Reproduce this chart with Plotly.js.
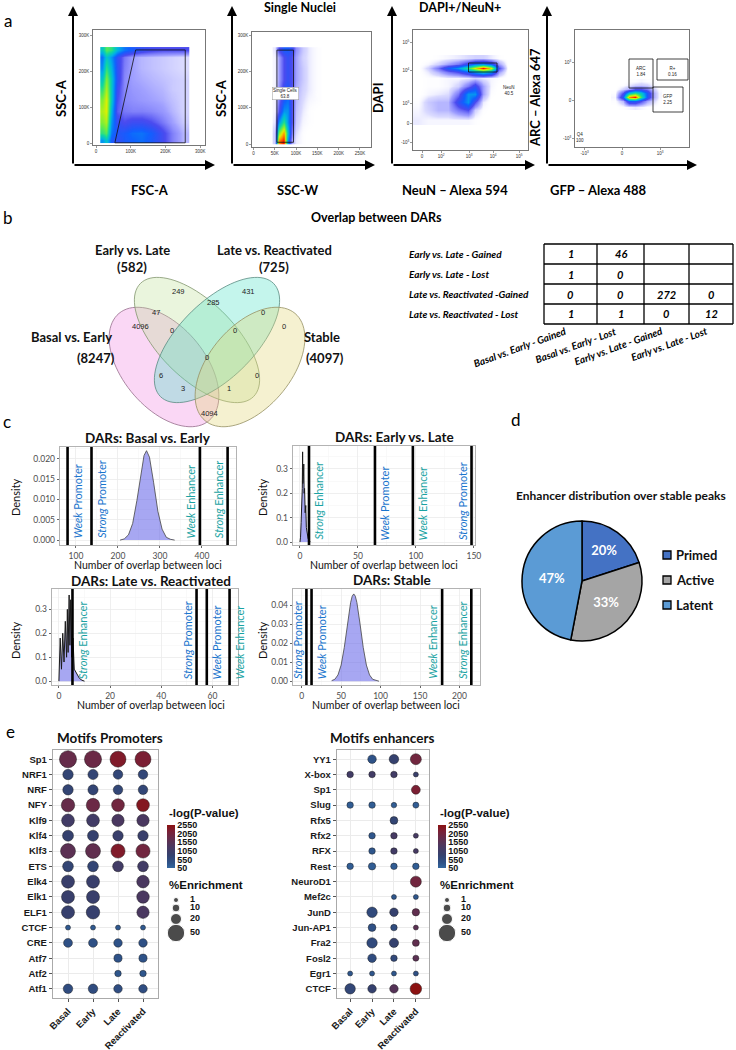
<!DOCTYPE html>
<html>
<head>
<meta charset="utf-8">
<script src="https://cdn.plot.ly/plotly-3.0.1.min.js"></script>
<style>
html,body{margin:0;padding:0;background:#ffffff;}
#chart{width:736px;height:1050px;}
</style>
</head>
<body>
<div id="chart"></div>
<script>
// ======================= DATA =======================
// Panel a – flow cytometry gating (density grids)
const flowTitles = ['', 'Single Nuclei', 'DAPI+/NeuN+', ''];
const flowXLabels = ['FSC-A', 'SSC-W', 'NeuN – Alexa 594', 'GFP – Alexa 488'];
const flowYLabels = ['SSC-A', 'SSC-A', 'DAPI', 'ARC – Alexa 647'];

const flow1X = [18, 30, 45, 60, 80, 105, 130, 160, 190, 220, 252];
const flow1Y = [12, 30, 60, 90, 120, 150, 180, 210, 240, 258];
const flow1Z = [
  [4, 5, 3, 2.5, 3, 3.2, 3.4, 3, 2.2, 1.4, 0.8],
  [6, 6.5, 3.5, 2.8, 3, 3.4, 3.5, 3.1, 2.2, 1.4, 0.8],
  [7, 7.5, 4, 2.4, 2, 2.3, 2.3, 2, 1.5, 1, 0.6],
  [7.5, 8, 4.5, 1.8, 1.5, 1.4, 1.4, 1.3, 1.1, 0.8, 0.5],
  [7, 8, 5, 2, 1.3, 1.2, 1.1, 1, 0.9, 0.7, 0.5],
  [6, 7.5, 5, 2.2, 1.3, 1.1, 1, 0.9, 0.8, 0.6, 0.5],
  [5, 7, 5, 2.5, 1.3, 1, 0.9, 0.8, 0.7, 0.6, 0.5],
  [4, 6, 4.5, 2.5, 1.4, 1, 0.8, 0.7, 0.6, 0.5, 0.4],
  [3.5, 5, 4, 2.5, 1.5, 1, 0.8, 0.7, 0.6, 0.5, 0.4],
  [5, 6.5, 6, 4.5, 3.5, 3, 2.5, 2.2, 2, 2, 2]
];
const gate1X = [54, 114, 257, 257, 54];
const gate1Y = [3, 259, 259, 3, 3];

const flow2X = [50, 60, 70, 80, 90, 100, 115, 130, 150];
const flow2Y = [10, 30, 60, 90, 120, 150, 180, 210, 240, 258];
const flow2Z = [
  [0.5, 9, 10, 4, 1, 0.3, 0.1, 0, 0],
  [0.5, 7, 9, 5, 1.5, 0.4, 0.1, 0, 0],
  [0.3, 4, 6, 4, 2, 0.6, 0.2, 0.1, 0],
  [0.2, 2, 4, 4, 2, 0.7, 0.3, 0.1, 0],
  [0.2, 1.5, 3, 3.5, 2, 0.8, 0.4, 0.2, 0.1],
  [0.2, 1.2, 2.5, 3, 2, 0.9, 0.5, 0.3, 0.1],
  [0.2, 1, 2, 2.5, 2, 1, 0.6, 0.3, 0.1],
  [0.2, 1, 2, 2.5, 2, 1, 0.6, 0.3, 0.1],
  [0.2, 1, 2, 2.5, 2, 1, 0.5, 0.3, 0.1],
  [0.3, 2, 3, 3, 2.5, 1.2, 0.6, 0.3, 0.1]
];
const gate2X = [55, 94, 94, 55, 55];
const gate2Y = [5, 5, 259, 259, 5];

const flow3X = [5, 15, 25, 35, 45, 55, 62, 70, 78, 86, 95];
const flow3Y = [30, 40, 48, 56, 64, 72, 78, 82, 86, 92];
const flow3Z = [
  [0.3, 0.2, 0.2, 0.2, 0.2, 0.2, 0.1, 0, 0, 0, 0],
  [0.2, 0.5, 0.8, 0.8, 1.5, 2, 0.5, 0.1, 0, 0, 0],
  [0.1, 0.6, 0.8, 0.8, 2.5, 4, 2, 0.3, 0, 0, 0],
  [0, 0.2, 0.3, 0.4, 1.5, 4, 4, 1, 0.1, 0, 0],
  [0, 0.1, 0.1, 0.2, 0.5, 1.5, 2.5, 1, 0.2, 0, 0],
  [0, 0.1, 0.1, 0.2, 0.2, 0.3, 0.5, 0.3, 0.2, 0.1, 0],
  [0, 0.3, 0.8, 1.5, 2, 3, 4, 5, 4, 1, 0],
  [0, 0.5, 1.5, 3, 4, 6, 8, 10, 8, 2, 0],
  [0, 0.2, 0.5, 1, 1.5, 2.5, 3.5, 4, 3, 1, 0],
  [0, 0, 0.1, 0.2, 0.3, 0.4, 0.5, 0.5, 0.3, 0.1, 0]
];
const gate3X = [55.5, 84, 84, 55.5, 55.5];
const gate3Y = [78, 78, 87, 87, 78];

const flow4X = [40, 48, 54, 60, 66, 72, 78, 84];
const flow4Y = [40, 46, 50, 54, 58, 62, 66];
const flow4Z = [
  [0, 0.1, 0.2, 0.3, 0.2, 0.1, 0.1, 0],
  [0.1, 0.8, 3, 3, 2, 1, 0.5, 0.1],
  [0.2, 3, 9, 10, 6, 3, 1, 0.2],
  [0.1, 2, 5, 6, 5, 3, 1, 0.2],
  [0, 0.5, 1, 2, 2, 1.5, 0.6, 0.1],
  [0, 0.1, 0.3, 0.5, 0.6, 0.5, 0.2, 0],
  [0, 0, 0.1, 0.1, 0.2, 0.1, 0.1, 0]
];
const gate4Names = ['ARC', 'R+', 'GFP'];
const gate4Pct = ['1.84', '0.16', '2.25'];
const gate4Boxes = [[54, 78, 59, 88], [82, 113, 67, 88], [78, 108, 35, 60]];

// Panel b – Venn diagram and overlap table
const vennSets = ['Basal vs. Early', 'Early vs. Late', 'Late vs. Reactivated', 'Stable'];
const vennTotals = [8247, 582, 725, 4097];
const vennCounts = [249, 285, 431, 47, 0, 4096, 0, 0, 0, 0, 6, 0, 3, 1, 4094];

const tableRows = ['Early vs. Late - Gained', 'Early vs. Late - Lost', 'Late vs. Reactivated -Gained', 'Late vs. Reactivated - Lost'];
const tableCols = ['Basal vs. Early - Gained', 'Basal vs. Early - Lost', 'Early vs. Late - Gained', 'Early vs. Late - Lost'];
const tableValues = [
  ['1', '46', '', ''],
  ['1', '0', '', ''],
  ['0', '0', '272', '0'],
  ['1', '1', '0', '12']
];

// Panel c – density of overlaps
const densTitles = ['DARs: Basal vs. Early', 'DARs: Early vs. Late', 'DARs: Late vs. Reactivated', 'DARs: Stable'];
const dens1X = [205, 215, 225, 235, 245, 255, 262, 268, 275, 285, 295, 305, 315, 325, 335];
const dens1Y = [0, 0.0003, 0.0013, 0.0041, 0.0097, 0.0169, 0.0208, 0.0220, 0.0204, 0.0141, 0.0071, 0.0027, 0.0007, 0.0002, 0];
const dens2X = [0, 0.5, 1, 1.5, 2, 2.3, 2.5, 2.7, 3, 3.3, 3.6, 4, 4.5, 5, 5.5, 6, 7, 8, 9];
const dens2Y = [0, 0.02, 0.08, 0.15, 0.22, 0.37, 0.24, 0.31, 0.27, 0.32, 0.2, 0.22, 0.12, 0.15, 0.06, 0.04, 0.015, 0.005, 0];
const dens3X = [0, 0.5, 1, 1.5, 2, 2.5, 3, 3.3, 3.6, 4, 4.3, 4.6, 5, 5.5, 6, 7, 8, 9, 10];
const dens3Y = [0, 0.18, 0.05, 0.2, 0.08, 0.25, 0.1, 0.3, 0.12, 0.36, 0.15, 0.34, 0.1, 0.18, 0.05, 0.03, 0.012, 0.004, 0];
const dens4X = [38, 42, 46, 50, 54, 58, 62, 64, 66, 68, 70, 74, 78, 82, 86, 90, 94, 98];
const dens4Y = [0.0003, 0.0010, 0.0033, 0.0085, 0.0178, 0.0301, 0.0414, 0.0448, 0.046, 0.0448, 0.0414, 0.0301, 0.0178, 0.0085, 0.0033, 0.0010, 0.0003, 0];

const thr1 = [80, 137, 395, 461];
const thr1Labels = ['Week Promoter', 'Strong Promoter', 'Week Enhancer', 'Strong Enhancer'];
const thr2 = [7.8, 64.7, 97.4, 148];
const thr2Labels = ['Strong Enhancer', 'Week Promoter', 'Week Enhancer', 'Strong Promoter'];
const thr3 = [5.3, 53.8, 57.8, 66.7];
const thr3Labels = ['Strong Enhancer', 'Strong Promoter', 'Week Promoter', 'Week Enhancer'];
const thr4 = [6, 12.5, 178, 215];
const thr4Labels = ['Strong Promoter', 'Week Promoter', 'Week Enhancer', 'Strong Enhancer'];

// Panel d – pie
const pieLabels = ['Primed', 'Active', 'Latent'];
const pieValues = [20, 33, 47];

// Panel e – motif dot plots  [Basal, Early, Late, Reactivated]
const stages = ['Basal', 'Early', 'Late', 'Reactivated'];
const promoterMotifs = ['Sp1', 'NRF1', 'NRF', 'NFY', 'Klf9', 'Klf4', 'Klf3', 'ETS', 'Elk4', 'Elk1', 'ELF1', 'CTCF', 'CRE', 'Atf7', 'Atf2', 'Atf1'];
const promoterEnrich = [
  [48, 48, 42, 42], [18, 17, 15, 15], [18, 17, 15, 15], [30, 30, 27, 27],
  [27, 27, 25, 25], [20, 20, 18, 18], [37, 37, 33, 33], [19, 19, 19, 19],
  [28, 28, null, 26], [28, 28, null, 26], [28, 30, null, 25], [4, 4, 4, 4],
  [13, 13, 12, 12], [null, null, 11, 11], [null, null, 7, 7], [15, 15, 12, 12]
];
const promoterLogP = [
  [1800, 1900, 2300, 2200], [700, 700, 650, 650], [700, 700, 650, 650], [1800, 1900, 2000, 2400],
  [1100, 1100, 1300, 1300], [800, 800, 900, 900], [1600, 1700, 2300, 2000], [700, 700, 1100, 1100],
  [900, 900, null, 1300], [900, 900, null, 1300], [850, 850, null, 1300], [250, 250, 250, 250],
  [400, 400, 350, 400], [null, null, 350, 350], [null, null, 300, 300], [500, 500, 450, 450]
];
const enhancerMotifs = ['YY1', 'X-box', 'Sp1', 'Slug', 'Rfx5', 'Rfx2', 'RFX', 'Rest', 'NeuroD1', 'Mef2c', 'JunD', 'Jun-AP1', 'Fra2', 'Fosl2', 'Egr1', 'CTCF'];
const enhancerEnrich = [
  [null, 12, 15, 20], [7, 7, 7, 2], [null, null, null, 13], [7, 7, 5, 6],
  [null, null, 10, null], [null, 7, 7, 2], [null, 7, 7, 3], [7, 9, 7, 7],
  [null, null, null, 20], [null, null, 3, 3], [null, 18, 12, 9], [null, 10, 7, 4],
  [null, 18, 14, 8], [null, 12, 7, 6], [2, 3, 3, 3], [18, 12, 12, 22]
];
const enhancerLogP = [
  [null, 350, 800, 2000], [1100, 1100, 1100, 900], [null, null, null, 2200], [200, 200, 200, 200],
  [null, null, 700, null], [null, 300, 1200, 1200], [null, 300, 1100, 1200], [200, 200, 200, 200],
  [null, null, null, 2000], [null, null, 300, 300], [null, 550, 800, 1700], [null, 400, 500, 1600],
  [null, 550, 800, 1700], [null, 500, 600, 1600], [300, 300, 300, 400], [650, 800, 1500, 2550]
];
const logPTicks = [50, 550, 1050, 1550, 2050, 2550];
const enrichLegend = [1, 10, 20, 50];

// ======================= STYLE / LAYOUT HELPERS =======================
const W = 736, H = 1050;
const FONT = 'Lato, "Open Sans", sans-serif';
const ARIAL = '"Liberation Sans", Arial, sans-serif';
const px = x => x / W;
const py = y => 1 - y / H;
const xdom = (a, b) => [a / W, b / W];
const ydom = (top, bottom) => [1 - bottom / H, 1 - top / H];
const f = (size, weight, color, family, style) => ({size: size, weight: weight || 'normal', color: color || '#000', family: family || FONT, style: style || 'normal'});

const traces = [];
const shapes = [];
const ann = [];
const layout = {
  width: W, height: H, margin: {l: 0, r: 0, t: 0, b: 0, pad: 0},
  paper_bgcolor: '#ffffff', plot_bgcolor: 'rgba(0,0,0,0)', showlegend: false,
  font: {family: FONT}
};
function txt(x, y, text, font, extra) {
  ann.push(Object.assign({xref: 'paper', yref: 'paper', x: px(x), y: py(y), text: text, showarrow: false,
    xanchor: 'center', yanchor: 'middle', font: font}, extra || {}));
}

// Panel letters
txt(8, 20, 'a', f(17));
txt(8, 218, 'b', f(17));
txt(7, 421, 'c', f(17));
txt(516, 419, 'd', f(17));
txt(10, 731, 'e', f(17));

// ======================= PANEL A =======================
const flowScale = [
  [0, 'rgba(255,255,255,0)'], [0.04, 'rgba(150,150,255,0.35)'], [0.1, 'rgba(80,80,255,0.55)'],
  [0.2, 'rgba(30,30,235,0.8)'], [0.32, '#1060ff'], [0.44, '#00b0e8'], [0.56, '#10d8a0'], [0.68, '#70ee40'],
  [0.8, '#e0f000'], [0.9, '#ff9000'], [1, '#ff1000']
];
const flowAxisBase = {
  showline: true, mirror: true, linecolor: '#555', linewidth: 0.8, ticks: 'outside', ticklen: 2,
  tickwidth: 0.6, tickcolor: '#555', tickfont: {size: 4.5, color: '#333', family: ARIAL},
  showgrid: false, zeroline: false, fixedrange: true, tickmode: 'array'
};
const flowPanels = [
  {X: flow1X, Y: flow1Y, Z: flow1Z, xd: [93, 205], yd: [30, 145], xr: [-9, 314], yr: [-3, 314],
   xt: [0, 100, 200, 300], xtt: ['0', '100K', '200K', '300K'], yt: [0, 100, 200, 300], ytt: ['0', '100K', '200K', '300K'],
   arrowX: 73, arrowEnd: 215},
  {X: flow2X, Y: flow2Y, Z: flow2Z, xd: [252, 371], yd: [32, 147], xr: [-3.5, 276], yr: [-8, 309],
   xt: [0, 50, 100, 150, 200, 250], xtt: ['0', '50K', '100K', '150K', '200K', '250K'], yt: [0, 100, 200, 300], ytt: ['0', '100K', '200K', '300K'],
   arrowX: 232, arrowEnd: 375},
  {X: flow3X, Y: flow3Y, Z: flow3Z, xd: [413, 528], yd: [30, 150], xr: [0, 115], yr: [0, 120],
   xt: [9, 28, 56, 80, 106], xtt: ['0', '10<sup>2</sup>', '10<sup>3</sup>', '10<sup>4</sup>', '10<sup>5</sup>'],
   yt: [8, 27, 47, 80, 108], ytt: ['-10<sup>3</sup>', '0', '10<sup>3</sup>', '10<sup>4</sup>', '10<sup>5</sup>'],
   arrowX: 392, arrowEnd: 535},
  {X: flow4X, Y: flow4Y, Z: flow4Z, xd: [575, 689], yd: [30, 147], xr: [0, 114], yr: [0, 117],
   xt: [9.5, 47, 85], xtt: ['-10<sup>3</sup>', '0', '10<sup>3</sup>'], yt: [9, 47, 85], ytt: ['-10<sup>3</sup>', '0', '10<sup>3</sup>'],
   arrowX: 547, arrowEnd: 697}
];
const flowXLabelPos = [150, 297, 455, 598];
const flowYLabelPos = [61, 221, 378, 535];
const flowTitlePos = [0, 300, 460, 0];
flowPanels.forEach((p, i) => {
  const n = i === 0 ? '' : String(i + 1);
  layout['xaxis' + n] = Object.assign({}, flowAxisBase, {domain: xdom(p.xd[0], p.xd[1]), range: p.xr, tickvals: p.xt, ticktext: p.xtt, anchor: 'y' + n});
  layout['yaxis' + n] = Object.assign({}, flowAxisBase, {domain: ydom(p.yd[0], p.yd[1]), range: p.yr, tickvals: p.yt, ticktext: p.ytt, anchor: 'x' + n});
  traces.push({type: 'heatmap', x: p.X, y: p.Y, z: p.Z, xaxis: 'x' + n, yaxis: 'y' + n, colorscale: flowScale,
    zmin: 0, zmax: 10, zsmooth: 'best', showscale: false, hoverinfo: 'skip'});
  // axis arrows
  ann.push({xref: 'paper', yref: 'paper', x: px(p.arrowX), y: py(6), ax: 0, ay: 159, showarrow: true, arrowhead: 2,
    arrowsize: 1, arrowwidth: 2, arrowcolor: '#000', text: ''});
  ann.push({xref: 'paper', yref: 'paper', x: px(p.arrowEnd), y: py(165), ax: -(p.arrowEnd - p.arrowX), ay: 0, showarrow: true,
    arrowhead: 2, arrowsize: 1, arrowwidth: 2, arrowcolor: '#000', text: ''});
  txt(flowXLabelPos[i], 190, flowXLabels[i], f(13, 'bold'));
  txt(flowYLabelPos[i], 98, flowYLabels[i], f(13, 'bold'), {textangle: -90});
  if (flowTitles[i]) txt(flowTitlePos[i], 7, flowTitles[i], f(12.5, 'bold'));
});
// gates
const gateLine = {color: '#111', width: 0.8};
traces.push({type: 'scatter', mode: 'lines', x: gate1X, y: gate1Y, xaxis: 'x', yaxis: 'y', line: gateLine, hoverinfo: 'skip'});
traces.push({type: 'scatter', mode: 'lines', x: gate2X, y: gate2Y, xaxis: 'x2', yaxis: 'y2', line: gateLine, hoverinfo: 'skip'});
traces.push({type: 'scatter', mode: 'lines', x: gate3X, y: gate3Y, xaxis: 'x3', yaxis: 'y3', line: gateLine, hoverinfo: 'skip'});
gate4Boxes.forEach(b => {
  traces.push({type: 'scatter', mode: 'lines', x: [b[0], b[1], b[1], b[0], b[0]], y: [b[2], b[2], b[3], b[3], b[2]],
    xaxis: 'x4', yaxis: 'y4', line: gateLine, hoverinfo: 'skip'});
});
const gf = f(4.5, 'normal', '#222', ARIAL);
ann.push({xref: 'x2', yref: 'y2', x: 74, y: 140, text: 'Single Cells<br>63.8', showarrow: false, font: gf, bgcolor: '#fff', bordercolor: '#999', borderwidth: 0.5, borderpad: 0.5});
ann.push({xref: 'x3', yref: 'y3', x: 96, y: 60, text: 'NeuN<br>40.5', showarrow: false, font: gf});
gate4Boxes.forEach((b, i) => {
  ann.push({xref: 'x4', yref: 'y4', x: (b[0] + b[1]) / 2, y: i === 2 ? 48 : 76, text: gate4Names[i] + '<br>' + gate4Pct[i], showarrow: false, font: gf});
});
ann.push({xref: 'x4', yref: 'y4', x: 5, y: 10, text: 'Q4<br>100', showarrow: false, font: gf});

// ======================= PANEL B =======================
txt(376, 218, 'Overlap between DARs', f(12.5, 'bold'));
function ellipsePath(cx, cy, a, b, deg) {
  const t = deg * Math.PI / 180;
  let s = '';
  for (let i = 0; i <= 90; i++) {
    const p = 2 * Math.PI * i / 90;
    const ex = a * Math.cos(p), ey = b * Math.sin(p);
    const x = cx + ex * Math.cos(t) - ey * Math.sin(t);
    const y = cy + ex * Math.sin(t) + ey * Math.cos(t);
    s += (i ? 'L' : 'M') + px(x).toFixed(5) + ',' + py(y).toFixed(5);
  }
  return s + 'Z';
}
const vennShapes = [
  {c: [164, 367], a: 70, b: 41, r: 50, fill: 'rgba(240,140,225,0.35)', line: 'rgba(150,110,140,0.8)'},
  {c: [197, 340], a: 80, b: 38, r: 45, fill: 'rgba(190,225,150,0.32)', line: 'rgba(130,150,110,0.8)'},
  {c: [217, 340], a: 80, b: 38, r: -45, fill: 'rgba(70,225,195,0.32)', line: 'rgba(90,140,130,0.8)'},
  {c: [250, 367], a: 70, b: 41, r: -50, fill: 'rgba(225,215,120,0.35)', line: 'rgba(150,145,100,0.8)'}
];
vennShapes.forEach(v => shapes.push({type: 'path', xref: 'paper', yref: 'paper', path: ellipsePath(v.c[0], v.c[1], v.a, v.b, v.r),
  fillcolor: v.fill, line: {color: v.line, width: 1}}));
const vennLabelPos = [[71, 337, 96, 358], [132, 250, 132, 267], [274, 250, 274, 267], [322, 337, 325, 358]];
vennSets.forEach((s, i) => {
  const p = vennLabelPos[i];
  txt(p[0], p[1], s, f(13, 'bold', '#111'));
  txt(p[2], p[3], '(' + vennTotals[i] + ')', f(13, 'bold', '#111'));
});
const vennCountPos = [[178, 291], [213, 302], [248, 291], [156, 312], [263, 312], [140, 327], [284, 327], [172, 330],
  [235, 330], [207, 357], [161, 375], [257, 375], [183, 388], [229, 388], [209, 413]];
vennCounts.forEach((c, i) => txt(vennCountPos[i][0], vennCountPos[i][1], String(c), f(7.5, 'normal', '#222', ARIAL)));

// table
const colEdges = [544, 597, 644, 689, 733];
const rowEdges = [244, 264, 284, 304, 324];
rowEdges.forEach(y => shapes.push({type: 'line', xref: 'paper', yref: 'paper', x0: px(colEdges[0]), x1: px(colEdges[4]), y0: py(y), y1: py(y), line: {color: '#000', width: 1.3}}));
colEdges.forEach(x => shapes.push({type: 'line', xref: 'paper', yref: 'paper', x0: px(x), x1: px(x), y0: py(rowEdges[0]), y1: py(rowEdges[4]), line: {color: '#000', width: 1.3}}));
tableRows.forEach((r, i) => {
  const yc = (rowEdges[i] + rowEdges[i + 1]) / 2;
  txt(407, yc, r, f(10, 'bold', '#000', FONT, 'italic'), {xanchor: 'left'});
  tableValues[i].forEach((v, j) => {
    if (v !== '') txt((colEdges[j] + colEdges[j + 1]) / 2, yc, v, f(11, 'bold', '#000', FONT, 'italic'));
  });
});
tableCols.forEach((c, j) => {
  const xc = (colEdges[j] + colEdges[j + 1]) / 2;
  txt(xc, 322, c, f(10, 'bold', '#000', FONT, 'italic'), {textangle: -20, xanchor: 'right', yanchor: 'top'});
});

// ======================= PANEL C =======================
const densAxBase = {
  showline: true, mirror: true, linecolor: '#b3b3b3', linewidth: 1.3, ticks: 'outside', ticklen: 2,
  tickcolor: '#666', tickfont: {size: 8.5, color: '#4d4d4d', family: FONT}, showgrid: true, gridcolor: '#ebebeb',
  gridwidth: 0.8, zeroline: false, fixedrange: true, tick0: 0
};
const densPanels = [
  {X: dens1X, Y: dens1Y, thr: thr1, lab: thr1Labels, side: ['r', 'r', 'l', 'l'], xd: [60, 236], yd: [447, 545],
   xr: [62, 481], yr: [-0.0012, 0.0229], dx: 100, dy: 0.005, fmt: '.3f', title: [148, 438], dens: [15, 497], xt: [148, 565], spike: false},
  {X: dens2X, Y: dens2Y, thr: thr2, lab: thr2Labels, side: ['r', 'r', 'r', 'l'], xd: [293, 475], yd: [446, 545],
   xr: [-6, 151], yr: [-0.012, 0.394], dx: 50, dy: 0.1, fmt: '.1f', title: [394, 437], dens: [262, 497], xt: [384, 565], spike: true},
  {X: dens3X, Y: dens3Y, thr: thr3, lab: thr3Labels, side: ['r', 'l', 'r', 'r'], xd: [52, 238], yd: [589, 685],
   xr: [-2.7, 70], yr: [-0.016, 0.385], dx: 20, dy: 0.1, fmt: '.1f', title: [151, 581], dens: [15, 640], xt: [151, 705], spike: true},
  {X: dens4X, Y: dens4Y, thr: thr4, lab: thr4Labels, side: ['l', 'r', 'l', 'l'], xd: [293, 480], yd: [589, 685],
   xr: [-11, 226], yr: [-0.002, 0.0486], dx: 50, dy: 0.01, fmt: '.2f', title: [392, 580], dens: [262, 640], xt: [386, 705], spike: false}
];
densPanels.forEach((p, i) => {
  const n = String(i + 5);
  layout['xaxis' + n] = Object.assign({}, densAxBase, {domain: xdom(p.xd[0], p.xd[1]), range: p.xr, dtick: p.dx, anchor: 'y' + n,
    minor: {dtick: p.dx / 2, showgrid: true, gridcolor: '#f5f5f5', gridwidth: 0.6}});
  layout['yaxis' + n] = Object.assign({}, densAxBase, {domain: ydom(p.yd[0], p.yd[1]), range: p.yr, dtick: p.dy, tickformat: p.fmt, anchor: 'x' + n,
    minor: {dtick: p.dy / 2, showgrid: true, gridcolor: '#f5f5f5', gridwidth: 0.6}});
  traces.push({type: 'scatter', mode: 'lines', x: p.X, y: p.Y, xaxis: 'x' + n, yaxis: 'y' + n, fill: 'tozeroy',
    fillcolor: 'rgba(95,95,232,0.55)', line: {color: p.spike ? '#1a1a1a' : '#444', width: p.spike ? 1 : 0.8}, hoverinfo: 'skip'});
  p.thr.forEach((t, k) => {
    shapes.push({type: 'line', xref: 'x' + n, yref: 'y' + n + ' domain', x0: t, x1: t, y0: 0, y1: 1, line: {color: '#000', width: 2.6}});
    const words = p.lab[k].split(' ');
    const col = p.lab[k].indexOf('Promoter') >= 0 ? '#1874cd' : '#1aa3a3';
    ann.push({xref: 'x' + n, yref: 'y' + n, x: t, y: 0, textangle: -90, showarrow: false,
      text: '<i>' + words[0] + '</i> ' + words.slice(1).join(' '),
      xanchor: p.side[k] === 'r' ? 'left' : 'right', yanchor: 'bottom', xshift: p.side[k] === 'r' ? 1 : -1,
      font: f(11, 'normal', col)});
  });
  txt(p.title[0], p.title[1], densTitles[i], f(13.5, 'bold', '#111'));
  txt(p.dens[0], p.dens[1], 'Density', f(11, 'normal', '#111'), {textangle: -90});
  txt(p.xt[0], p.xt[1], 'Number of overlap between loci', f(10.5, 'normal', '#111'));
});

// ======================= PANEL D =======================
const pieColors = ['#4472c4', '#a5a5a5', '#5b9bd5'];
txt(621, 495, 'Enhancer distribution over stable peaks', f(12, 'bold', '#111'));
traces.push({type: 'pie', labels: pieLabels, values: pieValues, sort: false, direction: 'clockwise', rotation: 0,
  domain: {x: xdom(522, 642), y: ydom(521, 641)}, marker: {colors: pieColors, line: {color: '#000', width: 1.5}},
  texttemplate: '%{value}%', textposition: 'inside', insidetextorientation: 'horizontal',
  textfont: {color: '#ffffff', size: 13, family: FONT, weight: 'bold'}, showlegend: false, hoverinfo: 'skip'});
const pieLegendY = [555, 580, 605];
pieLabels.forEach((l, i) => {
  shapes.push({type: 'rect', xref: 'paper', yref: 'paper', x0: px(663), x1: px(671), y0: py(pieLegendY[i] + 4), y1: py(pieLegendY[i] - 4),
    fillcolor: pieColors[i], line: {color: '#000', width: 1.3}});
  txt(674, pieLegendY[i], l, f(13, 'bold', '#111'), {xanchor: 'left'});
});

// ======================= PANEL E =======================
const dotScale = [[0, '#33679f'], [0.12, '#2e5288'], [0.3, '#35416e'], [0.5, '#4a3860'], [0.7, '#662c4a'], [0.85, '#7a2036'], [1, '#8b1111']];
const SIZEREF = 0.33;
function dotAxes(n, xd, motifs) {
  const nm = motifs.length;
  layout['xaxis' + n] = {domain: xdom(xd[0], xd[1]), range: [-0.6, 3.6], tickmode: 'array', tickvals: [0, 1, 2, 3], ticktext: stages,
    tickangle: -45, tickfont: {size: 9.5, family: ARIAL, color: '#1a1a1a', weight: 'bold'}, ticks: 'outside', ticklen: 3, tickcolor: '#555',
    showgrid: true, gridcolor: '#ebebeb', zeroline: false, showline: true, mirror: true, linecolor: '#aaa', linewidth: 1.2,
    anchor: 'y' + n, fixedrange: true};
  layout['yaxis' + n] = {domain: ydom(750, 998), range: [-0.6, nm - 0.4], tickmode: 'array',
    tickvals: motifs.map((m, i) => nm - 1 - i), ticktext: motifs,
    tickfont: {size: 9.5, family: ARIAL, color: '#1a1a1a', weight: 'bold'}, ticks: 'outside', ticklen: 3, tickcolor: '#555',
    showgrid: true, gridcolor: '#ebebeb', zeroline: false, showline: true, mirror: true, linecolor: '#aaa', linewidth: 1.2,
    anchor: 'x' + n, fixedrange: true};
}
function dotTrace(n, motifs, enrich, logp, cbx) {
  const x = [], y = [], s = [], c = [];
  motifs.forEach((m, i) => stages.forEach((st, j) => {
    if (enrich[i][j] != null) { x.push(j); y.push(motifs.length - 1 - i); s.push(enrich[i][j]); c.push(logp[i][j]); }
  }));
  return {type: 'scatter', mode: 'markers', x: x, y: y, xaxis: 'x' + n, yaxis: 'y' + n, hoverinfo: 'skip',
    marker: {size: s, sizemode: 'area', sizeref: SIZEREF, sizemin: 2.5, color: c, cmin: 50, cmax: 2550, colorscale: dotScale,
      opacity: 1, line: {width: 0.6, color: 'rgba(25,25,25,0.75)'}, showscale: true,
      colorbar: {x: px(cbx), xanchor: 'left', xpad: 0, y: py(825), yanchor: 'top', ypad: 0, lenmode: 'pixels', len: 43,
        thickness: 8, outlinewidth: 0, ticks: '', tickmode: 'array', tickvals: logPTicks, ticklabelpad: 2,
        tickfont: {size: 9, family: ARIAL, color: '#111', weight: 'bold'}}}};
}
dotAxes('9', [53, 158], promoterMotifs);
dotAxes('10', [337, 429], enhancerMotifs);
traces.push(dotTrace('9', promoterMotifs, promoterEnrich, promoterLogP, 167));
traces.push(dotTrace('10', enhancerMotifs, enhancerEnrich, enhancerLogP, 438));
txt(110, 738, 'Motifs Promoters', f(13.5, 'bold', '#111'));
txt(382, 738, 'Motifs enhancers', f(13.5, 'bold', '#111'));

// legend overlay axis (pixel units)
layout.xaxis11 = {domain: [0, 1], range: [0, W], visible: false, fixedrange: true, anchor: 'y11'};
layout.yaxis11 = {domain: [0, 1], range: [H, 0], visible: false, fixedrange: true, anchor: 'x11'};
const sizeLegendRows = [900, 908, 919, 933];
[[167, 176, 190], [438, 447, 461]].forEach(pos => {
  txt(pos[0], 813, '-log(P-value)', f(11.5, 'bold', '#111', ARIAL), {xanchor: 'left'});
  txt(pos[0], 885, '%Enrichment', f(11.5, 'bold', '#111', ARIAL), {xanchor: 'left'});
  traces.push({type: 'scatter', mode: 'markers', x: enrichLegend.map(() => pos[1]), y: sizeLegendRows, xaxis: 'x11', yaxis: 'y11',
    marker: {size: enrichLegend, sizemode: 'area', sizeref: SIZEREF, sizemin: 2.5, color: '#000'}, hoverinfo: 'skip'});
  traces.push({type: 'scatter', mode: 'text', x: enrichLegend.map(() => pos[2]), y: sizeLegendRows, xaxis: 'x11', yaxis: 'y11',
    text: enrichLegend.map(String), textposition: 'middle right', textfont: {size: 9, family: ARIAL, color: '#111', weight: 'bold'}, hoverinfo: 'skip'});
});

layout.shapes = shapes;
layout.annotations = ann;
Plotly.newPlot('chart', traces, layout, {displayModeBar: false, staticPlot: true});
</script>
</body>
</html>
